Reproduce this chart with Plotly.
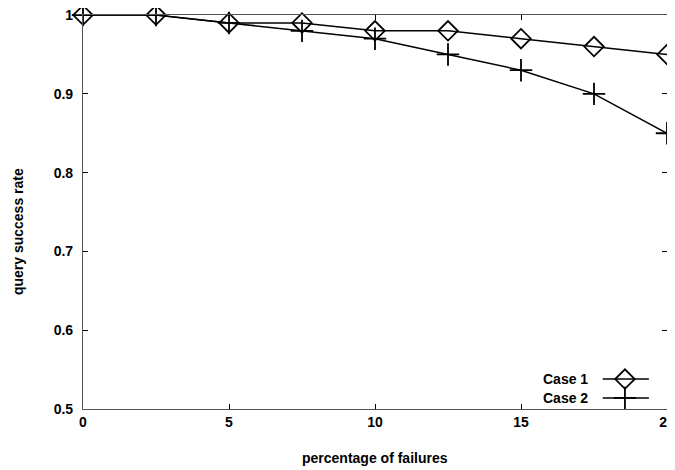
import plotly.graph_objects as go

failures = [0, 2.5, 5, 7.5, 10, 12.5, 15, 17.5, 20]
case1 = [1.0, 1.0, 0.99, 0.99, 0.98, 0.98, 0.97, 0.96, 0.95]
case2 = [1.0, 1.0, 0.99, 0.98, 0.97, 0.95, 0.93, 0.90, 0.85]
series_names = ["Case 1", "Case 2"]
x_ticks = [0, 5, 10, 15, 20]
y_ticks = [0.5, 0.6, 0.7, 0.8, 0.9, 1.0]
y_tick_text = ["0.5", "0.6", "0.7", "0.8", "0.9", "1"]

font = dict(family="Liberation Sans, Arial, sans-serif", size=14, color="black", weight="bold")

fig = go.Figure()
fig.add_trace(go.Scatter(
    x=failures, y=case1, mode="lines+markers", name=series_names[0],
    line=dict(color="black", width=1.5),
    marker=dict(symbol="diamond-open", size=15, color="black", line=dict(width=1.8)),
    cliponaxis=False, showlegend=False))
fig.add_trace(go.Scatter(
    x=failures, y=case2, mode="lines+markers", name=series_names[1],
    line=dict(color="black", width=1.5),
    marker=dict(symbol="cross-thin-open", size=16, color="black", line=dict(width=1.8, color="black")),
    cliponaxis=False, showlegend=False))

# manual legend (text left of sample, gnuplot style)
leg_y = [0.076, 0.028]
for i, (nm, sym, sz) in enumerate([(series_names[0], "diamond-open", 15), (series_names[1], "cross-thin-open", 16)]):
    fig.add_trace(go.Scatter(
        x=[0.890, 0.969], y=[leg_y[i], leg_y[i]], xaxis="x2", yaxis="y2",
        mode="lines", line=dict(color="black", width=1.5), showlegend=False, hoverinfo="skip"))
    fig.add_trace(go.Scatter(
        x=[0.928], y=[leg_y[i]], xaxis="x2", yaxis="y2", mode="markers",
        marker=dict(symbol=sym, size=sz, color="black", line=dict(width=1.8, color="black")),
        showlegend=False, hoverinfo="skip", cliponaxis=False))
    fig.add_annotation(x=0.868, y=leg_y[i], xref="x2", yref="y2", text=nm,
                       showarrow=False, xanchor="right", yanchor="middle", font=font)

fig.add_annotation(x=0.5, y=-0.124, xref="paper", yref="paper", text="percentage of failures",
                   showarrow=False, xanchor="center", yanchor="middle", font=font)
fig.add_annotation(x=-0.1113, y=0.449, xref="paper", yref="paper", text="query success rate",
                   showarrow=False, xanchor="center", yanchor="middle", textangle=-90, font=font)

# page has an 8px body margin, so the figure is 8px smaller and offset
fig.update_layout(
    width=667, height=462,
    margin=dict(l=75, r=8, t=7, b=61),
    paper_bgcolor="white", plot_bgcolor="white",
    font=font,
    xaxis=dict(range=[0, 20], tickvals=x_ticks, ticks="inside", ticklen=5, tickcolor="black",
               showline=True, linecolor="#555", linewidth=1.2, mirror="ticks", showgrid=False,
               zeroline=False, tickfont=font, automargin=False, ticklabeloverflow="allow"),
    yaxis=dict(range=[0.4999, 1.0001], tickvals=y_ticks, ticktext=y_tick_text, ticks="inside", ticklen=5,
               tickcolor="black", showline=True, linecolor="#555", linewidth=1.2, mirror="ticks",
               showgrid=False, zeroline=False, tickfont=font, automargin=False, ticklabelstandoff=6,
               ticklabeloverflow="allow"),
    xaxis2=dict(range=[0, 1], overlaying="x", visible=False, fixedrange=True),
    yaxis2=dict(range=[0, 1], overlaying="y", visible=False, fixedrange=True),
)

fig.write_html("out.html")
